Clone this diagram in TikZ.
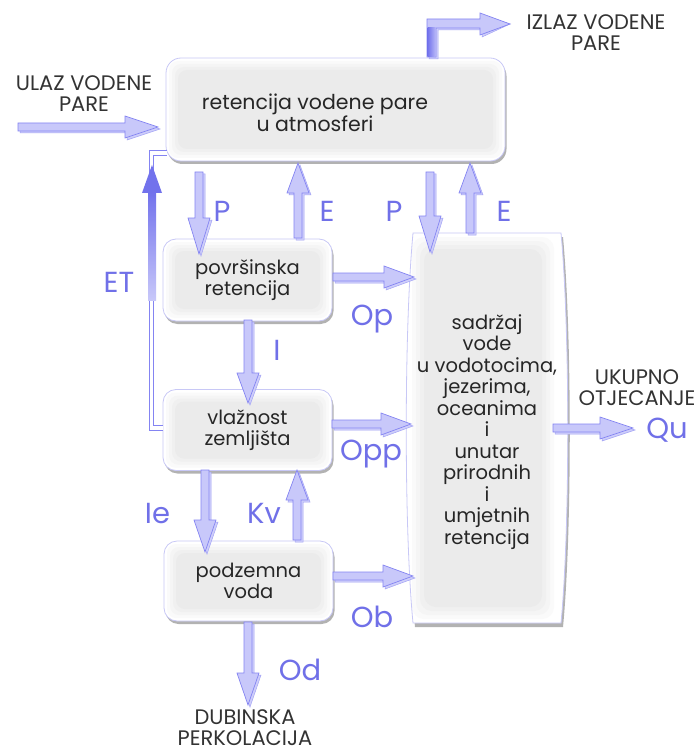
\documentclass[tikz,border=0pt]{standalone}
\usepackage{fontspec}
\setmainfont{Poppins}
\usetikzlibrary{calc,shadows}
\definecolor{arrline}{HTML}{8484F2}
\definecolor{arrmid}{HTML}{C8C8FA}
\definecolor{arrdark}{HTML}{7272EC}
\definecolor{lblue}{HTML}{7070E8}
\definecolor{boxline}{HTML}{C8C8F6}
\definecolor{txtgrey}{HTML}{262626}
\definecolor{capgrey}{HTML}{333333}
\newcommand\boxfont{\fontsize{19.5}{21.5}\selectfont}
% #1 head length, #2 shading style, #3 from, #4 to
\newcommand\fatarrow[4][30]{%
  \draw[arrline!75, fill=arrline!40, line width=0.5pt] let \p1=(#3), \p2=(#4),
    \n1={atan2(\y2-\y1,\x2-\x1)}, \n2={veclen(\x2-\x1,\y2-\y1)} in
    [shift={(\p1)}, xshift=2pt, yshift=-2pt, rotate=\n1]
    (0,-4) -- (\n2-#1,-4) -- (\n2-#1,-11) -- (\n2,0) -- (\n2-#1,11) -- (\n2-#1,4) -- (0,4) -- cycle;
  \draw[arrline, #2, line width=0.7pt] let \p1=(#3), \p2=(#4),
    \n1={atan2(\y2-\y1,\x2-\x1)}, \n2={veclen(\x2-\x1,\y2-\y1)} in
    [shift={(\p1)}, rotate=\n1]
    (0,-4) -- (\n2-#1,-4) -- (\n2-#1,-11) -- (\n2,0) -- (\n2-#1,11) -- (\n2-#1,4) -- (0,4) -- cycle;
}
\tikzset{
  hsh/.style={top color=arrmid, middle color=white, bottom color=arrmid},
  vsh/.style={left color=arrmid, middle color=white, right color=arrmid},
  box/.style={rectangle, rounded corners=13pt, draw=boxline, line width=0.8pt, fill=white,
    drop shadow={shadow xshift=1.5pt, shadow yshift=-3pt, fill=black, opacity=0.3},
    text=txtgrey, align=center, font=\boxfont, inner sep=0pt,
    path picture={\foreach \i/\c in {3/2,6/4,9/6,12/8}{\fill[black!\c, rounded corners=9pt]
      ([shift={(\i pt,\i pt)}]path picture bounding box.south west) rectangle
      ([shift={(-\i pt,-\i pt)}]path picture bounding box.north east);}}},
  boxtxt/.style={text=txtgrey, align=center, font=\boxfont, inner sep=0pt},
  lbl/.style={text=lblue, font=\fontsize{29}{29}\selectfont, inner sep=0pt, anchor=base},
  captxt/.style={text=capgrey, font=\fontsize{21}{21}\selectfont, align=center, inner sep=0pt, anchor=base},
}
\begin{document}
\begin{tikzpicture}[x=1pt,y=-1pt]
\useasboundingbox (0,0) rectangle (700,751);
\fill[white] (0,0) rectangle (700,751);

% ---- boxes ----
\node[box, minimum width=339pt, minimum height=103pt, rounded corners=15pt] (atm) at (335.5,109.5) {};
\node[boxtxt, font=\fontsize{20.5}{22}\selectfont] (atmtext) at (315,113) {retencija vodene pare\\u atmosferi};
\node[box, minimum width=169pt, minimum height=82pt] (pov) at (247.5,280) {površinska\\retencija};
\node[box, minimum width=169pt, minimum height=81pt] (vla) at (247.5,430) {vlažnost\\zemljišta};
\node[box, minimum width=169pt, minimum height=80pt] (pod) at (248.5,581) {podzemna\\voda};

% big barrel box
\fill[black, opacity=0.3, shift={(2pt,-4pt)}] (413,233) -- (561,233) .. controls (570,330) and (570,530) .. (561,623) -- (413,623) .. controls (404,530) and (404,330) .. (413,233) -- cycle;
\begin{scope}
\clip (413,233) -- (561,233) .. controls (570,330) and (570,530) .. (561,623) -- (413,623) .. controls (404,530) and (404,330) .. (413,233) -- cycle;
\fill[white] (400,225) rectangle (580,630);
\foreach \i/\c in {4/2,8/4,12/6,16/8}{\fill[black!\c, rounded corners=12pt] (408+\i,233+\i) rectangle (566-\i-8,623-\i);}
\end{scope}
\draw[boxline, line width=0.8pt] (413,233) -- (561,233) .. controls (570,330) and (570,530) .. (561,623) -- (413,623) .. controls (404,530) and (404,330) .. (413,233) -- cycle;
\node[boxtxt] (big) at (487,432) {sadržaj\\vode\\u vodotocima,\\jezerima,\\oceanima\\i\\unutar\\prirodnih\\i\\umjetnih\\retencija};

% ---- connector end points ----
\coordinate (p1s) at (199,172);  \coordinate (p1e) at (199,254);
\coordinate (e1s) at (298,238);  \coordinate (e1e) at (298,163);
\coordinate (p2s) at (430,172);  \coordinate (p2e) at (430,252);
\coordinate (e2s) at (470,233);  \coordinate (e2e) at (470,163);
\coordinate (ops) at (333,277);  \coordinate (ope) at (414,277);
\coordinate (is)  at (248,320);  \coordinate (ie)  at (248,403);
\coordinate (opps) at (332,424); \coordinate (oppe) at (411,424);
\coordinate (ies) at (205,470);  \coordinate (iee) at (205,552);
\coordinate (kvs) at (297,540);  \coordinate (kve) at (297,470);
\coordinate (obs) at (333,576);  \coordinate (obe) at (413,576);
\coordinate (ods) at (248,622);  \coordinate (ode) at (248,705);
\coordinate (qus) at (553,428);  \coordinate (que) at (633,428);
\coordinate (uls) at (18,127);   \coordinate (ule) at (158,127);
\coordinate (etA) at (163,428);  \coordinate (etB) at (167,153);

% ---- arrows ----
\fatarrow[36]{vsh}{p1s}{p1e}
\fatarrow{vsh}{e1s}{e1e}
\fatarrow[36]{vsh}{p2s}{p2e}
\fatarrow{vsh}{e2s}{e2e}
\fatarrow{hsh}{ops}{ope}
\fatarrow{vsh}{is}{ie}
\fatarrow{hsh}{opps}{oppe}
\fatarrow[32]{vsh}{ies}{iee}
\fatarrow{vsh}{kvs}{kve}
\fatarrow{hsh}{obs}{obe}
\fatarrow[32]{vsh}{ods}{ode}
\fatarrow[33]{hsh}{qus}{que}
\fatarrow[33]{hsh}{uls}{ule}

% ET return path
\draw[arrline, line width=1pt, double=white, double distance=3.5pt] (etA) -- (151.5,428) -- (151.5,153) -- (etB);
\shade[top color=arrdark, bottom color=arrline!45] (148,192) rectangle (156,300);
\fill[arrdark] (142,193) -- (152,165) -- (162,193) -- cycle;

% IZLAZ elbow arrow
\coordinate (izs) at (431.5,57); \coordinate (ize) at (510,24);
\draw[arrline!75, fill=arrline!40, line width=0.5pt, shift={(2pt,-2pt)}] (427,57) -- (427,19) -- (480,19) -- (480,13) -- (ize) -- (480,35) -- (480,28) -- (436,28) -- (436,57) -- cycle;
\draw[arrline, hsh, line width=0.7pt] (427,57) -- (427,19) -- (480,19) -- (480,13) -- (ize) -- (480,35) -- (480,28) -- (436,28) -- (436,57) -- cycle;
\shade[left color=arrdark, right color=arrline!60] (427.5,57) rectangle (435.5,28);

% ---- labels ----
\node[lbl] (lP1) at (222,222) {P};
\node[lbl] (lE1) at (327,222) {E};
\node[lbl] (lP2) at (394,222) {P};
\node[lbl] (lE2) at (504,222) {E};
\node[lbl] (lET) at (119,292) {ET};
\node[lbl] (lOp) at (372,325) {Op};
\node[lbl] (lI) at (277,360) {I};
\node[lbl] (lOpp) at (371,460) {Opp};
\node[lbl] (lIe) at (157.5,523) {Ie};
\node[lbl] (lKv) at (264,523) {Kv};
\node[lbl] (lOb) at (372,627) {Ob};
\node[lbl] (lOd) at (300,680) {Od};
\node[lbl] (lQu) at (667,438) {Qu};

\node[captxt] (ulaz) at (84,112) {ULAZ VODENE\\PARE};
\node[captxt] (izlaz) at (596,51) {IZLAZ VODENE\\PARE};
\node[captxt] (ukupno) at (637,405) {UKUPNO\\OTJECANJE};
\node[captxt] (dub) at (245,745) {DUBINSKA\\PERKOLACIJA};
\end{tikzpicture}
\end{document}
